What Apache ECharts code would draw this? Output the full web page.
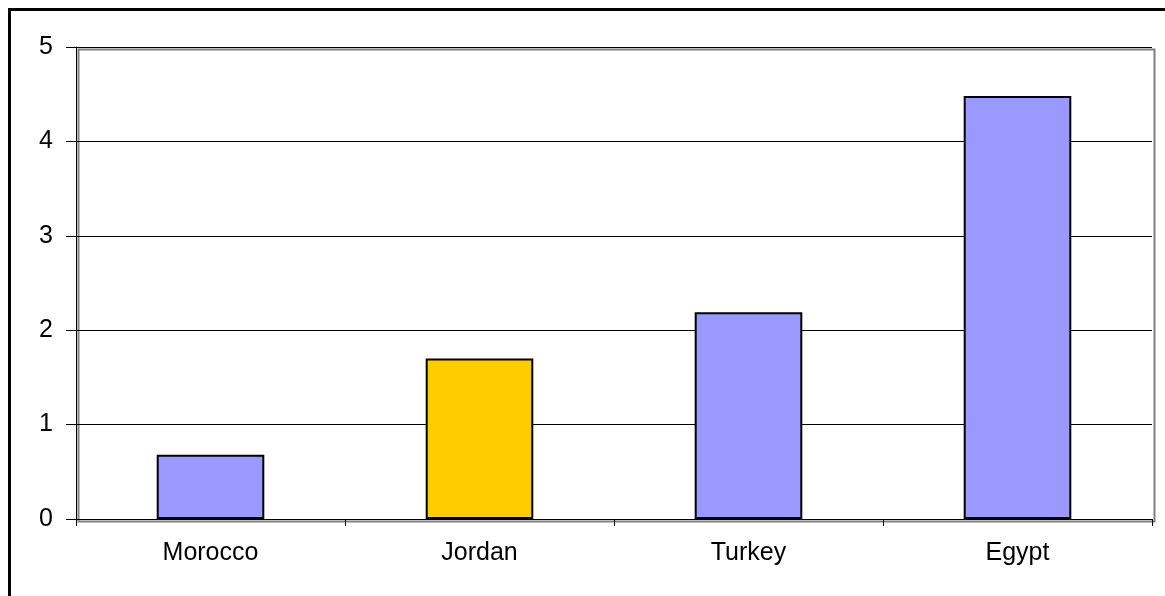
<!DOCTYPE html>
<html><head><meta charset="utf-8">
<script src="https://cdn.jsdelivr.net/npm/echarts@6/dist/echarts.min.js"></script>
<style>html,body{margin:0;padding:0;background:#fff}#c{width:1165px;height:596px}</style>
</head><body><div id="c"></div>
<script>
const categories = ['Morocco', 'Jordan', 'Turkey', 'Egypt'];
const values = [0.68, 1.7, 2.19, 4.48];
const barColors = ['#9999FF', '#FFCC00', '#9999FF', '#9999FF'];
const yTicks = [0, 1, 2, 3, 4, 5];

const chart = echarts.init(document.getElementById('c'), null, {renderer: 'canvas'});
chart.setOption({
  animation: false,
  backgroundColor: '#fff',
  textStyle: {fontFamily: 'Liberation Sans, Arial, sans-serif'},
  graphic: [
    {type: 'rect', left: 7, top: 7, shape: {width: 1180, height: 620}, style: {fill: 'none', stroke: '#000', lineWidth: 3}, z: 10},
    {type: 'rect', left: 76, top: 47, shape: {width: 1076, height: 472}, style: {fill: 'none', stroke: '#808080', lineWidth: 2}, z: 0}
  ],
  grid: {left: 76, top: 47, right: 13, bottom: 77, containLabel: false},
  xAxis: {
    type: 'category', data: categories, boundaryGap: true,
    axisLine: {lineStyle: {color: '#000', width: 1}},
    axisTick: {show: true, length: 7, alignWithLabel: false, lineStyle: {color: '#000'}},
    axisLabel: {color: '#000', fontSize: 25, margin: 22, fontFamily: 'Liberation Sans'}
  },
  yAxis: {
    type: 'value', min: yTicks[0], max: yTicks[yTicks.length - 1], interval: 1,
    axisLine: {show: true, lineStyle: {color: '#000', width: 1}},
    axisTick: {show: true, length: 10, lineStyle: {color: '#000'}},
    axisLabel: {color: '#000', fontSize: 25, margin: 23, fontFamily: 'Liberation Sans'},
    splitLine: {show: true, lineStyle: {color: '#000', width: 1}}
  },
  series: [{
    type: 'bar',
    data: values.map((v, i) => ({value: v, itemStyle: {color: barColors[i]}})),
    barWidth: '40%',
    itemStyle: {borderColor: '#000', borderWidth: 2}
  }]
});
</script></body></html>
